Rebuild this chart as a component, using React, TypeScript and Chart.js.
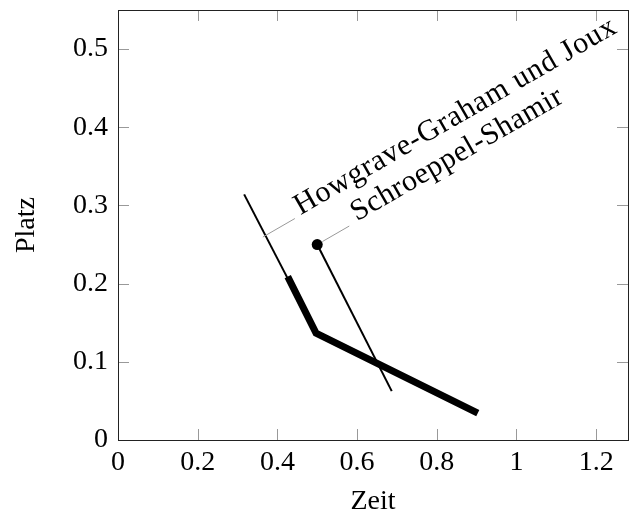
import React, { useEffect, useRef } from 'react';
import { Chart, registerables } from 'chart.js';

Chart.register(...registerables);

// ---- data ----
const hgjThinX = [0.3166, 0.497];
const hgjThinY = [0.3142, 0.1367];
const hgjThickX = [0.426, 0.497, 0.903];
const hgjThickY = [0.209, 0.1367, 0.0345];
const ssX = [0.5, 0.687];
const ssY = [0.25, 0.0625];

const xTicks = [0, 0.2, 0.4, 0.6, 0.8, 1, 1.2];
const yTicks = [0, 0.1, 0.2, 0.3, 0.4, 0.5];
const xLimits = [0, 1.28];
const yLimits = [0, 0.55];

const xTitle = 'Zeit';
const yTitle = 'Platz';

const pinLabels = ['Howgrave-Graham und Joux', 'Schroeppel-Shamir'];
const pinX = [0.3635, 0.5];
const pinY = [0.2596, 0.25];

const FONT = '"Liberation Serif", "Times New Roman", serif';

const fmt = (v: number) => String(parseFloat(Number(v).toFixed(2)));

const toPts = (xs: number[], ys: number[]) => xs.map((x, i) => ({ x, y: ys[i] }));

const framePlugin = {
  id: 'frameTicks',
  afterDatasetsDraw(chart: any) {
    const { ctx, chartArea: a, scales } = chart;
    const xs = scales.x, ys = scales.y;
    const tl = 11;
    ctx.save();
    ctx.strokeStyle = '#999';
    ctx.lineWidth = 1;
    ctx.beginPath();
    xTicks.forEach((v) => {
      const px = Math.round(xs.getPixelForValue(v)) + 0.5;
      ctx.moveTo(px, a.bottom);
      ctx.lineTo(px, a.bottom - tl);
      ctx.moveTo(px, a.top);
      ctx.lineTo(px, a.top + tl);
    });
    yTicks.forEach((v) => {
      const py = Math.round(ys.getPixelForValue(v)) + 0.5;
      ctx.moveTo(a.left, py);
      ctx.lineTo(a.left + tl, py);
      ctx.moveTo(a.right, py);
      ctx.lineTo(a.right - tl, py);
    });
    ctx.stroke();
    ctx.strokeStyle = '#222';
    ctx.lineWidth = 1;
    ctx.strokeRect(Math.round(a.left) + 0.5, Math.round(a.top) + 0.5, Math.round(a.right - a.left), Math.round(a.bottom - a.top));

    // pins
    const gaps0 = [0, 6];
    const gaps1 = [37, 37];
    const gapsT = [43.5, 46];
    const spacing = ['0.8px', '0.5px'];
    const ang = (-30 * Math.PI) / 180;
    const dx = Math.cos(ang), dy = Math.sin(ang);
    pinLabels.forEach((label, i) => {
      const px = xs.getPixelForValue(pinX[i]);
      const py = ys.getPixelForValue(pinY[i]);
      ctx.strokeStyle = '#999';
      ctx.lineWidth = 1;
      ctx.beginPath();
      ctx.moveTo(px + dx * gaps0[i], py + dy * gaps0[i]);
      ctx.lineTo(px + dx * gaps1[i], py + dy * gaps1[i]);
      ctx.stroke();
      ctx.save();
      ctx.translate(px + dx * gapsT[i], py + dy * gapsT[i]);
      ctx.rotate(ang);
      ctx.font = `30px ${FONT}`;
      (ctx as any).letterSpacing = spacing[i];
      ctx.fillStyle = '#000';
      ctx.textBaseline = 'alphabetic';
      ctx.textAlign = 'left';
      ctx.fillText(label, 0, 0);
      ctx.restore();
    });
    ctx.restore();
  },
};

export default function App() {
  const ref = useRef<HTMLCanvasElement | null>(null);
  useEffect(() => {
    if (!ref.current) return;
    const chart = new Chart(ref.current, {
      type: 'scatter',
      data: {
        datasets: [
          {
            label: 'HGJ thin',
            data: toPts(hgjThinX, hgjThinY),
            showLine: true,
            borderColor: '#000',
            borderWidth: 2,
            pointRadius: 0,
          },
          {
            label: 'HGJ thick',
            data: toPts(hgjThickX, hgjThickY),
            showLine: true,
            borderColor: '#000',
            borderWidth: 7,
            borderJoinStyle: 'miter',
            pointRadius: 0,
          },
          {
            label: 'Schroeppel-Shamir',
            data: toPts(ssX, ssY),
            showLine: true,
            borderColor: '#000',
            borderWidth: 2,
            pointRadius: [5.5, 0],
            pointBackgroundColor: '#000',
            pointBorderWidth: 0,
          },
        ],
      },
      options: {
        animation: false,
        responsive: true,
        maintainAspectRatio: false,
        layout: { autoPadding: false, padding: { top: 10, right: 1, left: 0, bottom: 0 } },
        plugins: { legend: { display: false }, tooltip: { enabled: false } },
        scales: {
          x: {
            type: 'linear',
            min: xLimits[0],
            max: xLimits[1],
            afterBuildTicks: (s: any) => {
              s.ticks = xTicks.map((v) => ({ value: v }));
            },
            afterFit: (s: any) => {
              s.height = 76;
              s.paddingLeft = 0;
              s.paddingRight = 0;
            },
            grid: { display: false, drawTicks: false },
            border: { display: false },
            ticks: {
              color: '#000',
              font: { family: FONT, size: 28 },
              padding: 6,
              maxRotation: 0,
              autoSkip: false,
              callback: (v: any) => fmt(v),
            },
            title: {
              display: true,
              text: xTitle,
              color: '#000',
              font: { family: FONT, size: 28, lineHeight: 1 },
              padding: { top: 0, bottom: 0 },
            },
          },
          y: {
            type: 'linear',
            min: yLimits[0],
            max: yLimits[1],
            afterBuildTicks: (s: any) => {
              s.ticks = yTicks.map((v) => ({ value: v }));
            },
            afterFit: (s: any) => {
              s.width = 118;
              s.paddingTop = 0;
              s.paddingBottom = 0;
            },
            grid: { display: false, drawTicks: false },
            border: { display: false },
            ticks: {
              color: '#000',
              font: { family: FONT, size: 28 },
              padding: 10,
              autoSkip: false,
              callback: (v: any) => fmt(v),
            },
            title: {
              display: true,
              text: yTitle,
              color: '#000',
              font: { family: FONT, size: 28, lineHeight: 1 },
              padding: { top: 13, bottom: 0 },
            },
          },
        },
      },
      plugins: [framePlugin],
    } as any);
    return () => chart.destroy();
  }, []);
  return (
    <div style={{ position: 'absolute', left: 0, top: 0, width: 629, height: 516 }}>
      <canvas ref={ref} />
    </div>
  );
}
